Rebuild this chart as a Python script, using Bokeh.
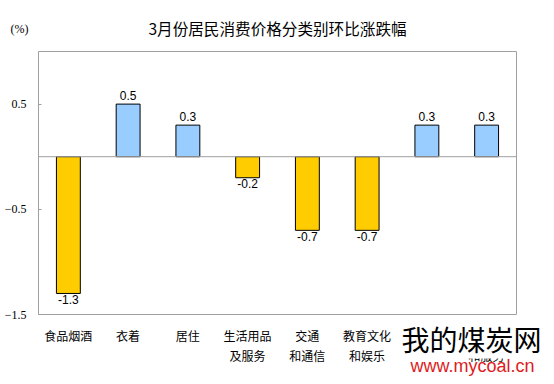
from bokeh.plotting import figure
from bokeh.models import ColumnDataSource, Range1d, FixedTicker, Span, FactorRange, Title
from bokeh.core.properties import value
from bokeh.embed import file_html
from bokeh.resources import INLINE

categories = ["食品烟酒", "衣着", "居住", "生活用品\n及服务", "交通\n和通信",
              "教育文化\n和娱乐", "医疗保健", "其他用品\n和服务"]
changes = [-1.3, 0.5, 0.3, -0.2, -0.7, -0.7, 0.3, 0.3]
y_ticks = [0.5, -0.5, -1.5]
title_text = "3月份居民消费价格分类别环比涨跌幅"
unit_text = "(%)"
watermark_cn = "我的煤炭网"
watermark_url = "www.mycoal.cn"

UP = "#99CCFF"
DOWN = "#FFCC00"
GRAY = "#a0a0a0"

colors = [UP if v >= 0 else DOWN for v in changes]

src = ColumnDataSource(dict(x=categories, top=changes, color=colors))
pos = ColumnDataSource(dict(x=[c for c, v in zip(categories, changes) if v >= 0],
                            y=[v for v in changes if v >= 0],
                            t=["%.1f" % v for v in changes if v >= 0]))
neg = ColumnDataSource(dict(x=[c for c, v in zip(categories, changes) if v < 0],
                            y=[v for v in changes if v < 0],
                            t=["%.1f" % v for v in changes if v < 0]))

p = figure(width=554, height=384, x_range=FactorRange(*categories),
           y_range=Range1d(-1.5, 1.0), output_backend="svg", toolbar_location=None,
           min_border_left=38, min_border_right=38, min_border_top=51, min_border_bottom=70)

p.title.text = ""
p.background_fill_color = "white"
p.border_fill_color = "white"
p.outline_line_color = GRAY
p.xgrid.visible = False
p.ygrid.visible = False

p.vbar(x="x", top="top", bottom=0, width=0.4, source=src,
       fill_color="color", line_color="black", line_width=1)

p.add_layout(Span(location=0, dimension="width", line_color=GRAY, line_width=1))

p.text(x="x", y="y", text="t", source=pos, text_font=value("Liberation Sans"),
       text_font_size="12px", text_align="center", text_baseline="alphabetic",
       y_offset=-9, text_color="black")
p.text(x="x", y="y", text="t", source=neg, text_font=value("Liberation Sans"),
       text_font_size="12px", text_align="center", text_baseline="alphabetic",
       y_offset=6, text_color="black")

ya = p.yaxis[0]
ya.ticker = FixedTicker(ticks=y_ticks)
ya.axis_line_color = GRAY
ya.major_tick_line_color = GRAY
ya.major_tick_in = 3
ya.major_tick_out = 0
ya.minor_tick_line_color = None
ya.major_label_text_font = "Liberation Serif"
ya.major_label_text_font_size = "12px"
ya.major_label_text_color = "black"
ya.major_label_standoff = 12

xa = p.xaxis[0]
xa.axis_line_color = None
xa.major_tick_line_color = None
xa.minor_tick_line_color = None
xa.major_label_text_font = "Noto Sans CJK SC"
xa.major_label_text_font_size = "12px"
xa.major_label_text_color = "black"
xa.major_label_standoff = 6

# texts outside the frame live in the side panels
p.add_layout(Title(text=title_text, align="center", vertical_align="bottom", standoff=26,
                   text_font="Noto Sans CJK SC", text_font_size="15.6px",
                   text_font_style="normal", text_color="black"), "above")
p.add_layout(Title(text=unit_text, align="left", offset=-28, vertical_align="bottom",
                   standoff=-68, text_font="Liberation Serif", text_font_size="12px",
                   text_font_style="normal", text_color="black"), "above")
p.add_layout(Title(text=watermark_cn, align="left", offset=363, vertical_align="top",
                   standoff=-96, text_font="Noto Sans CJK SC", text_font_size="28px",
                   text_font_style="normal", text_color="black",
                   background_fill_color="white"), "below")
p.add_layout(Title(text=watermark_url, align="left", offset=372, vertical_align="top",
                   standoff=-21, text_font="Liberation Sans", text_font_size="18px",
                   text_font_style="normal", text_color="#e01b22"), "below")

open("out.html", "w").write(file_html(p, INLINE))
